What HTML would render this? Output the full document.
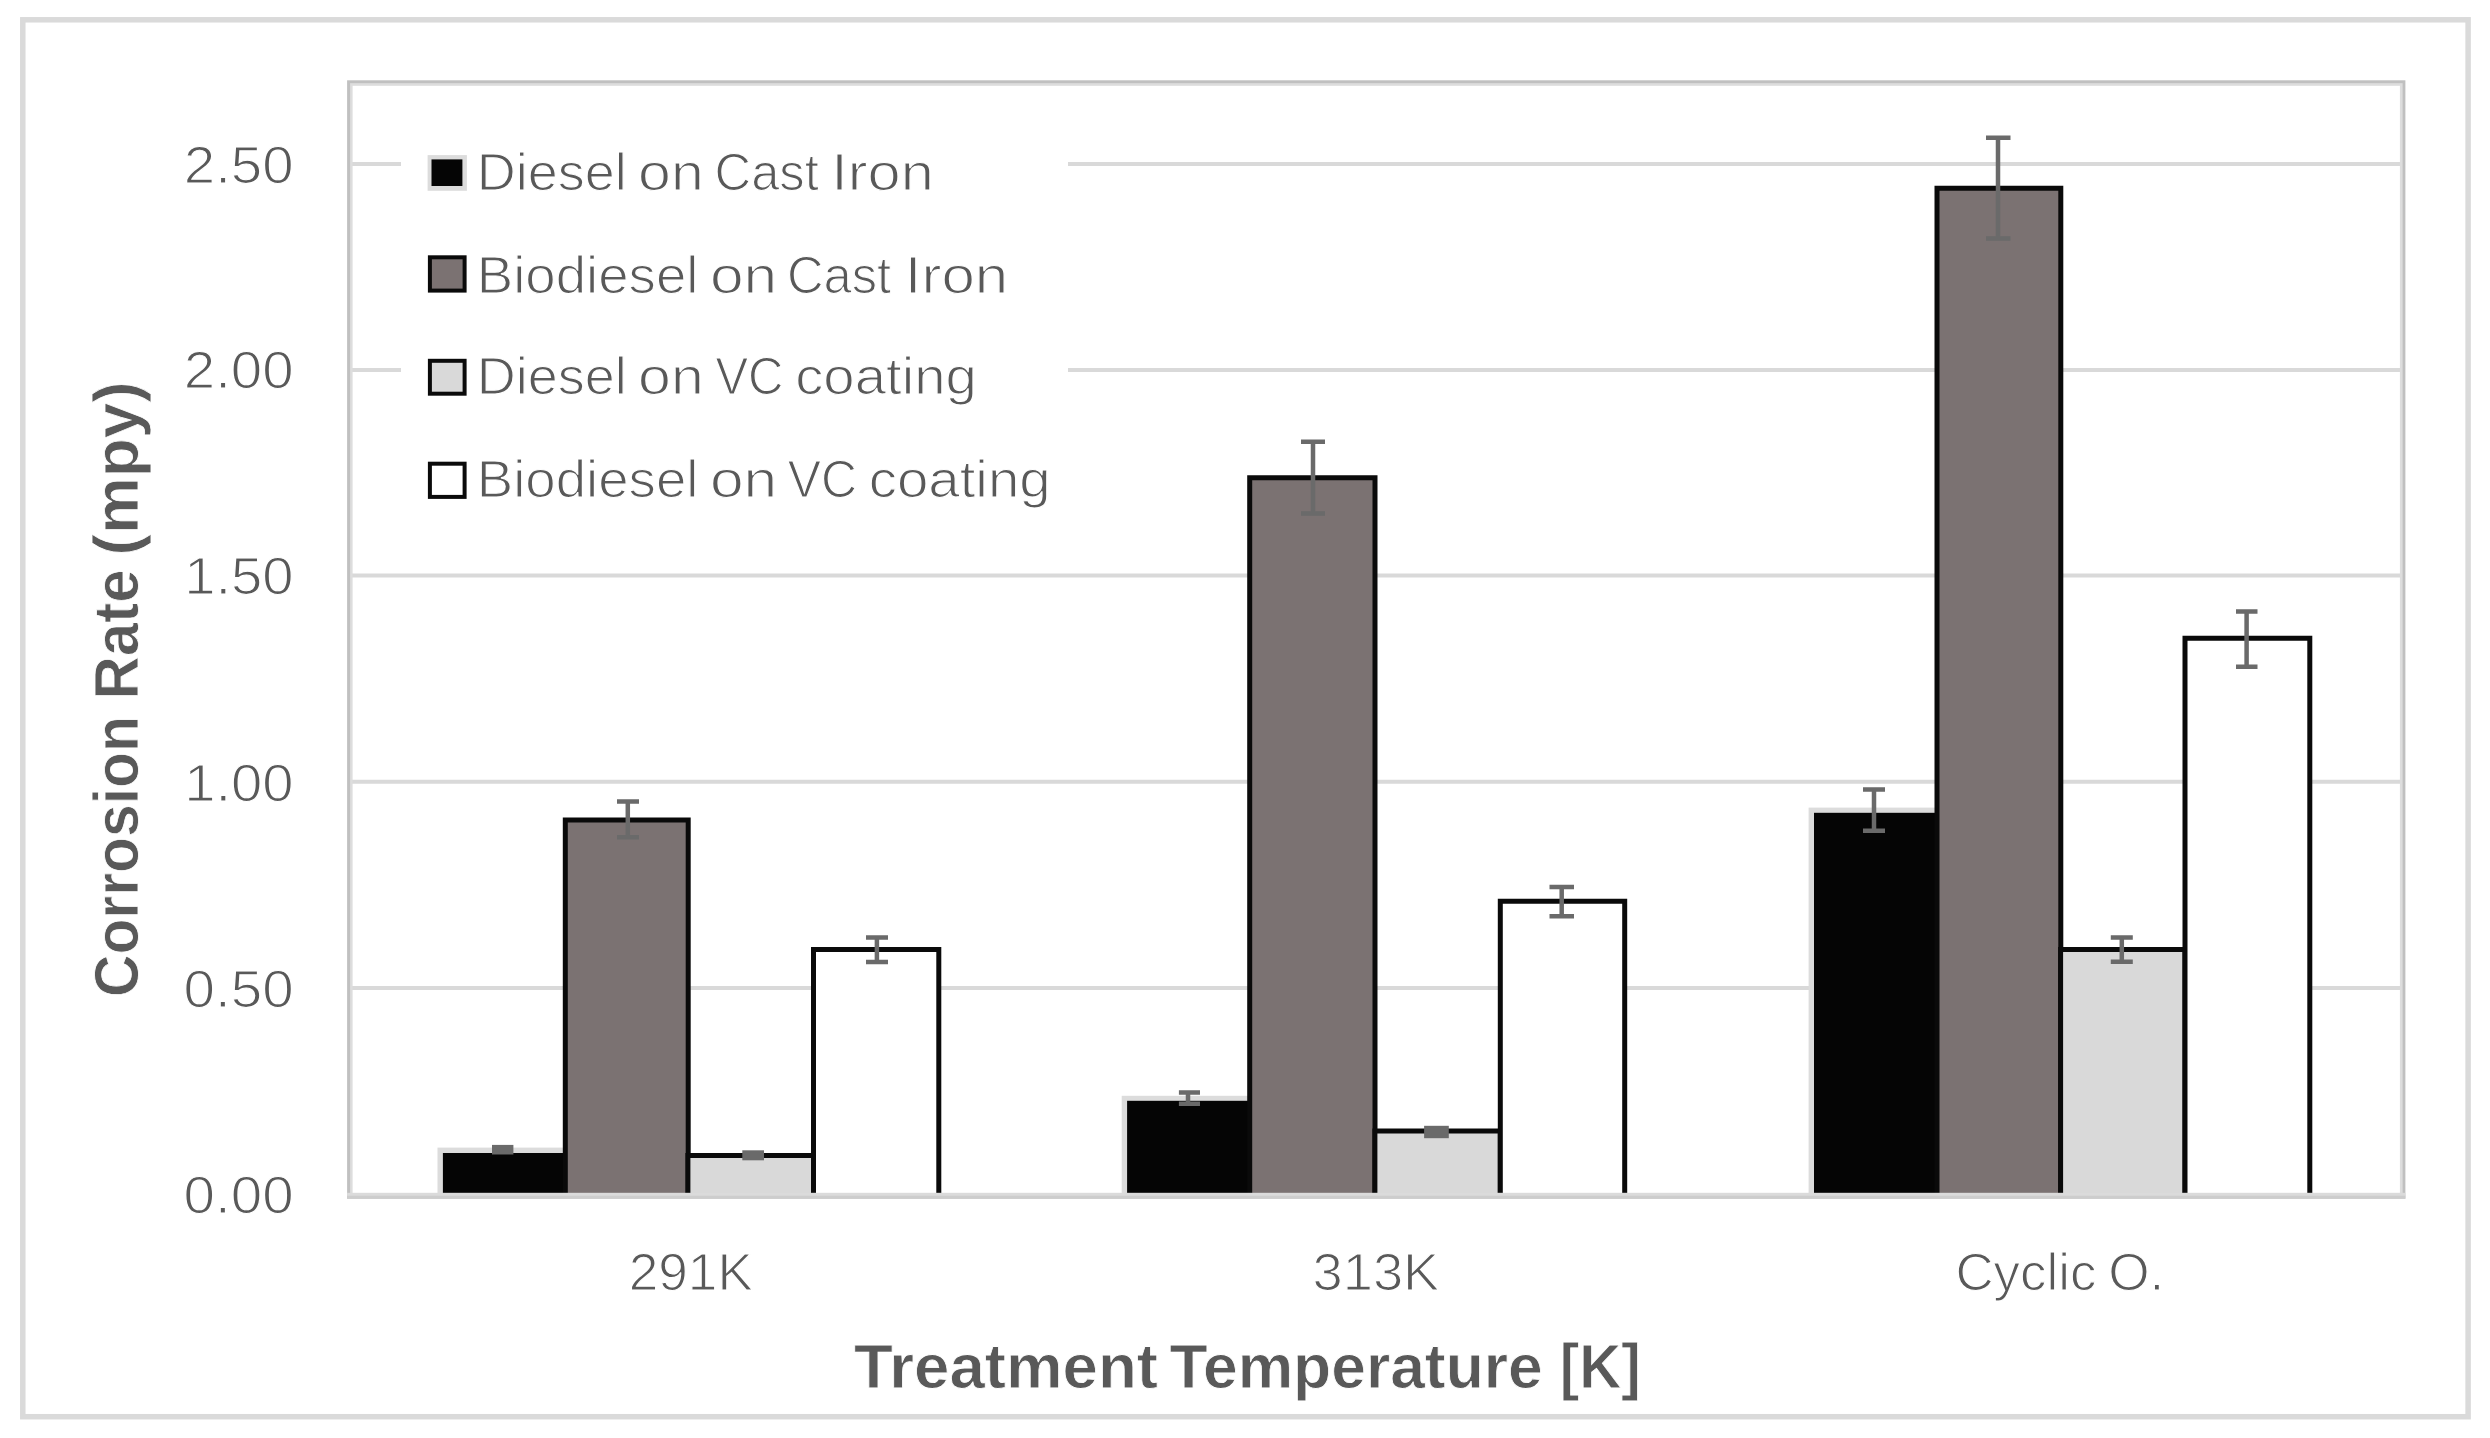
<!DOCTYPE html>
<html lang="en">
<head>
<meta charset="utf-8">
<title>Corrosion Rate vs Treatment Temperature</title>
<style>
  html, body { margin: 0; padding: 0; background: #ffffff; }
  body { width: 2490px; height: 1438px; overflow: hidden; }
  svg { display: block; filter: blur(0.7px); }
  text { font-family: "Liberation Sans", sans-serif; fill: #595959; }
  .ax, .lg { stroke: #ffffff; stroke-width: 1.2px; paint-order: fill stroke; }
  .ax { font-size: 52px; }
  .lg { font-size: 52.5px; }
  .tt { font-size: 62.5px; font-weight: bold; stroke: #ffffff; stroke-width: 0.8px; paint-order: fill stroke; }
</style>
</head>
<body>
<svg width="2490" height="1438" viewBox="0 0 2490 1438">
  <rect x="0" y="0" width="2490" height="1438" fill="#ffffff"/>

  <!-- outer chart frame -->
  <rect x="22.8" y="19.8" width="2445.3" height="1396.9" fill="none" stroke="#dadada" stroke-width="5.5"/>

  <!-- horizontal gridlines -->
  <g stroke="#d9d9d9" stroke-width="4">
    <line x1="348" y1="164" x2="2402" y2="164"/>
    <line x1="348" y1="370" x2="2402" y2="370"/>
    <line x1="348" y1="575.5" x2="2402" y2="575.5"/>
    <line x1="348" y1="781.8" x2="2402" y2="781.8"/>
    <line x1="348" y1="988" x2="2402" y2="988"/>
  </g>

  <!-- plot area frame -->
  <rect x="351.3" y="84.5" width="2049.9" height="1110" fill="none" stroke="#dddddd" stroke-width="2.6"/>
  <rect x="348.6" y="81.8" width="2055.3" height="1115.4" fill="none" stroke="#c0c0c0" stroke-width="3"/>

  <!-- legend background -->
  <rect x="401" y="110" width="667" height="430" fill="#ffffff"/>

  <!-- ===== group 1 : 291K ===== -->
  <g>
    <!-- Diesel on Cast Iron (black, faint grey edge) -->
    <rect x="437.5" y="1147.6" width="128" height="45.4" fill="#dcdcdc"/>
    <rect x="442.9" y="1153" width="122.6" height="40" fill="#050505"/>
    <!-- Biodiesel on Cast Iron -->
    <rect x="565.3" y="819.9" width="122.9" height="374.1" fill="#7b7272"/><path d="M565.3 1193V819.9H688.2V1193" fill="none" stroke="#0a0a0a" stroke-width="5" stroke-linejoin="miter"/>
    <!-- Diesel on VC coating -->
    <rect x="687.9" y="1155.6" width="125.6" height="38.4" fill="#d9d9d9"/><path d="M687.9 1193V1155.6H813.5V1193" fill="none" stroke="#0a0a0a" stroke-width="5" stroke-linejoin="miter"/>
    <!-- Biodiesel on VC coating -->
    <rect x="813.5" y="949.6" width="125.3" height="244.4" fill="#ffffff"/><path d="M813.5 1193V949.6H938.8V1193" fill="none" stroke="#0a0a0a" stroke-width="5" stroke-linejoin="miter"/>
  </g>

  <!-- ===== group 2 : 313K ===== -->
  <g>
    <rect x="1121.7" y="1095.8" width="128" height="97.2" fill="#dcdcdc"/>
    <rect x="1127.1" y="1100.8" width="123" height="92.2" fill="#050505"/>
    <rect x="1249.7" y="477.8" width="125.3" height="716.2" fill="#7b7272"/><path d="M1249.7 1193V477.8H1375V1193" fill="none" stroke="#0a0a0a" stroke-width="5" stroke-linejoin="miter"/>
    <rect x="1374.9" y="1131" width="125.4" height="63" fill="#d9d9d9"/><path d="M1374.9 1193V1131H1500.3V1193" fill="none" stroke="#0a0a0a" stroke-width="5" stroke-linejoin="miter"/>
    <rect x="1500.3" y="901.2" width="124.4" height="292.8" fill="#ffffff"/><path d="M1500.3 1193V901.2H1624.7V1193" fill="none" stroke="#0a0a0a" stroke-width="5" stroke-linejoin="miter"/>
  </g>

  <!-- ===== group 3 : Cyclic O. ===== -->
  <g>
    <rect x="1808.6" y="807.6" width="128" height="385.4" fill="#dcdcdc"/>
    <rect x="1814" y="812.8" width="123" height="380.2" fill="#050505"/>
    <rect x="1937" y="188.2" width="123.8" height="1005.8" fill="#7b7272"/><path d="M1937 1193V188.2H2060.8V1193" fill="none" stroke="#0a0a0a" stroke-width="5" stroke-linejoin="miter"/>
    <rect x="2060.6" y="949.5" width="124.4" height="244.5" fill="#d9d9d9"/><path d="M2060.6 1193V949.5H2185V1193" fill="none" stroke="#0a0a0a" stroke-width="5" stroke-linejoin="miter"/>
    <rect x="2185" y="638.2" width="124.8" height="555.8" fill="#ffffff"/><path d="M2185 1193V638.2H2309.8V1193" fill="none" stroke="#0a0a0a" stroke-width="5" stroke-linejoin="miter"/>
  </g>

  <!-- category axis line drawn over bar feet -->
  <rect x="347.1" y="1192.8" width="2058.3" height="3.2" fill="#dbdbdb"/>
  <rect x="347.1" y="1195.7" width="2058.3" height="3" fill="#cdcdcd"/>

  <!-- ===== error bars ===== -->
  <g stroke="#6a6a6a" stroke-width="4.5" fill="none">
    <!-- group 1 -->
    <path d="M492 1149.7H513.4" stroke-width="9.6"/>
    <path d="M617 801.6H639M617 837.3H639M627.8 801.6V837.3"/>
    <path d="M742.3 1155.3H764" stroke-width="10"/>
    <path d="M866 937.5H888M866 962.1H888M876.9 937.5V962.1"/>
    <!-- group 2 -->
    <path d="M1178.9 1092.6H1200M1178.9 1103.8H1200M1188 1092.6V1103.8"/>
    <path d="M1301 441.7H1325M1301 513.5H1325M1313 441.7V513.5"/>
    <path d="M1424.1 1132H1448.8" stroke-width="12.4"/>
    <path d="M1549.5 886.9H1574M1549.5 916.3H1574M1561.7 886.9V916.3"/>
    <!-- group 3 -->
    <path d="M1863 789.4H1885M1863 830.7H1885M1874 789.4V830.7"/>
    <path d="M1986 137.7H2010.5M1986 238.4H2010.5M1998 137.7V238.4"/>
    <path d="M2110.8 937.4H2132.8M2110.8 961.8H2132.8M2121.8 937.4V961.8"/>
    <path d="M2236 611.4H2257.5M2236 666.7H2257.5M2246.6 611.4V666.7"/>
  </g>

  <!-- ===== legend ===== -->
  <g>
    <rect x="427.6" y="155.1" width="39.3" height="35.7" fill="#dcdcdc"/>
    <rect x="431.5" y="159.4" width="30.9" height="26.6" fill="#050505"/>
    <rect x="429.9" y="257.3" width="34.7" height="33.3" fill="#7b7272" stroke="#0a0a0a" stroke-width="4"/>
    <rect x="429.9" y="360.8" width="34.7" height="32.9" fill="#d9d9d9" stroke="#0a0a0a" stroke-width="4"/>
    <rect x="429.9" y="463.7" width="34.7" height="33.2" fill="#ffffff" stroke="#0a0a0a" stroke-width="4"/>
    <text class="lg" y="189.9"><tspan x="476.8" textLength="150.0" lengthAdjust="spacingAndGlyphs">Diesel</tspan> <tspan x="638.1" textLength="65.6" lengthAdjust="spacingAndGlyphs">on</tspan> <tspan x="714.6" textLength="104.2" lengthAdjust="spacingAndGlyphs">Cast</tspan> <tspan x="831.3" textLength="102.4" lengthAdjust="spacingAndGlyphs">Iron</tspan></text>
    <text class="lg" y="292.6"><tspan x="476.8" textLength="221.6" lengthAdjust="spacingAndGlyphs">Biodiesel</tspan> <tspan x="709.9" textLength="67.2" lengthAdjust="spacingAndGlyphs">on</tspan> <tspan x="786.9" textLength="104.2" lengthAdjust="spacingAndGlyphs">Cast</tspan> <tspan x="904.8" textLength="103.4" lengthAdjust="spacingAndGlyphs">Iron</tspan></text>
    <text class="lg" y="394.2"><tspan x="476.8" textLength="150.0" lengthAdjust="spacingAndGlyphs">Diesel</tspan> <tspan x="638.1" textLength="65.6" lengthAdjust="spacingAndGlyphs">on</tspan> <tspan x="715.4" textLength="68.0" lengthAdjust="spacingAndGlyphs">VC</tspan> <tspan x="795.2" textLength="181.6" lengthAdjust="spacingAndGlyphs">coating</tspan></text>
    <text class="lg" y="497.0"><tspan x="476.8" textLength="221.6" lengthAdjust="spacingAndGlyphs">Biodiesel</tspan> <tspan x="709.9" textLength="67.2" lengthAdjust="spacingAndGlyphs">on</tspan> <tspan x="787.7" textLength="69.2" lengthAdjust="spacingAndGlyphs">VC</tspan> <tspan x="868.7" textLength="182.0" lengthAdjust="spacingAndGlyphs">coating</tspan></text>
  </g>

  <!-- ===== value axis labels ===== -->
  <g class="ax">
    <text y="182.6"><tspan x="183.8" textLength="109.8" lengthAdjust="spacingAndGlyphs">2.50</tspan></text>
    <text y="388.2"><tspan x="183.8" textLength="109.8" lengthAdjust="spacingAndGlyphs">2.00</tspan></text>
    <text y="594.2"><tspan x="184.2" textLength="109.4" lengthAdjust="spacingAndGlyphs">1.50</tspan></text>
    <text y="800.6"><tspan x="184.2" textLength="109.4" lengthAdjust="spacingAndGlyphs">1.00</tspan></text>
    <text y="1006.6"><tspan x="183.6" textLength="110.0" lengthAdjust="spacingAndGlyphs">0.50</tspan></text>
    <text y="1213.4"><tspan x="183.6" textLength="110.0" lengthAdjust="spacingAndGlyphs">0.00</tspan></text>
  </g>

  <!-- ===== category axis labels ===== -->
  <g class="ax">
    <text y="1289.6"><tspan x="628.7" textLength="124.2" lengthAdjust="spacingAndGlyphs">291K</tspan></text>
    <text y="1289.6"><tspan x="1312.5" textLength="126.8" lengthAdjust="spacingAndGlyphs">313K</tspan></text>
    <text y="1289.6"><tspan x="1955.4" textLength="141.0" lengthAdjust="spacingAndGlyphs">Cyclic</tspan> <tspan x="2108.2" textLength="56.2" lengthAdjust="spacingAndGlyphs">O.</tspan></text>
  </g>

  <!-- ===== axis titles ===== -->
  <text class="tt" y="1388.0"><tspan x="854.0" textLength="304.0" lengthAdjust="spacingAndGlyphs">Treatment</tspan> <tspan x="1169.5" textLength="373.2" lengthAdjust="spacingAndGlyphs">Temperature</tspan> <tspan x="1559.8" textLength="81.0" lengthAdjust="spacingAndGlyphs">[K]</tspan></text>
  <text class="tt" transform="translate(138.2 994) rotate(-90)" y="0"><tspan x="-3.0" textLength="280.8" lengthAdjust="spacingAndGlyphs">Corrosion</tspan> <tspan x="294.5" textLength="130.0" lengthAdjust="spacingAndGlyphs">Rate</tspan> <tspan x="438.6" textLength="174.0" lengthAdjust="spacingAndGlyphs">(mpy)</tspan></text>
</svg>
</body>
</html>
